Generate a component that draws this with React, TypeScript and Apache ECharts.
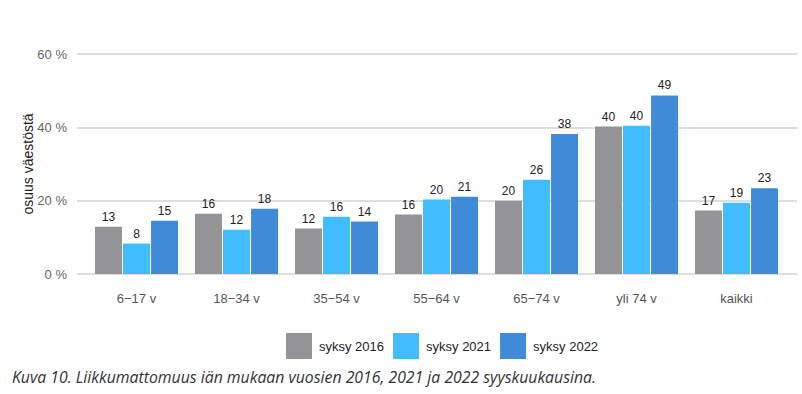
import React, { useEffect, useRef } from "react";
import * as echarts from "echarts";

const categories = ["6−17 v", "18−34 v", "35−54 v", "55−64 v", "65−74 v", "yli 74 v", "kaikki"];
const seriesNames = ["syksy 2016", "syksy 2021", "syksy 2022"];
const values2016 = [12.9, 16.4, 12.4, 16.2, 20.0, 40.2, 17.3];
const values2021 = [8.3, 12.1, 15.6, 20.3, 25.7, 40.4, 19.4];
const values2022 = [14.5, 17.8, 14.3, 21.1, 38.2, 48.7, 23.4];
const yTicks = [0, 20, 40, 60];
const colors = ["#949497", "#40bcff", "#3f8bd8"];
const yAxisTitle = "osuus väestöstä";
const caption = "Kuva 10. Liikkumattomuus iän mukaan vuosien 2016, 2021 ja 2022 syyskuukausina.";

const FF = "'Liberation Sans', Arial, sans-serif";

export default function App() {
  const ref = useRef<HTMLDivElement>(null);
  useEffect(() => {
    if (!ref.current) return;
    const chart = echarts.init(ref.current, undefined, { renderer: "svg" });
    const data = [values2016, values2021, values2022];
    chart.setOption({
      animation: false,
      backgroundColor: "#ffffff",
      textStyle: { fontFamily: FF },
      grid: [
        { left: 86.5, top: 54, width: 700, height: 220, containLabel: false },
        { left: 77, top: 54, width: 720, height: 220, containLabel: false },
      ],
      legend: {
        data: seriesNames,
        left: 286,
        top: 333,
        padding: 0,
        itemWidth: 26,
        itemHeight: 26,
        itemGap: 9,
        icon: "rect",
        textStyle: { fontSize: 13, color: "#222", fontFamily: FF, padding: [0, 0, 0, 2] },
      },
      xAxis: [
        {
          type: "category",
          gridIndex: 0,
          data: categories,
          axisLine: { show: false },
          axisTick: { show: false },
          axisLabel: { fontSize: 13, color: "#555", margin: 18, fontFamily: FF },
        },
        {
          type: "value",
          gridIndex: 1,
          show: false,
          min: 0,
          max: 1,
        },
      ],
      yAxis: [
        {
          type: "value",
          gridIndex: 0,
          min: 0,
          max: 60,
          interval: 20,
          show: false,
          splitLine: { show: false },
        },
        {
          type: "value",
          gridIndex: 1,
          min: yTicks[0],
          max: yTicks[yTicks.length - 1],
          interval: 20,
          axisLine: { show: false },
          axisTick: { show: false },
          axisLabel: { fontSize: 13, color: "#666", margin: 10, fontFamily: FF, formatter: (v: number) => `${v} %` },
          splitLine: { show: true, lineStyle: { color: "#dedede", width: 2 } },
        },
      ],
      series: seriesNames.map((name, i) => ({
        name,
        type: "bar",
        xAxisIndex: 0,
        yAxisIndex: 0,
        data: data[i],
        barCategoryGap: "17%",
        barGap: "4%",
        itemStyle: { color: colors[i] },
        label: {
          show: true,
          position: "top",
          distance: 4,
          fontSize: 12,
          color: "#222",
          fontFamily: FF,
          formatter: (p: any) => `${Math.round(p.value)}`,
        },
      })),
      graphic: [
        {
          type: "text",
          x: 28,
          y: 164,
          rotation: Math.PI / 2,
          style: {
            text: yAxisTitle,
            font: `14px ${FF}`,
            fill: "#222",
            align: "center",
            verticalAlign: "middle",
          },
        },
        {
          type: "text",
          left: 12,
          top: 369,
          style: {
            text: caption,
            font: "italic 15.8px 'Open Sans', sans-serif",
            fill: "#333",
          },
        },
      ],
    });
    return () => chart.dispose();
  }, []);
  return (
    <div
      ref={ref}
      style={{ position: "fixed", left: 0, top: 0, width: 802, height: 394 }}
    />
  );
}
